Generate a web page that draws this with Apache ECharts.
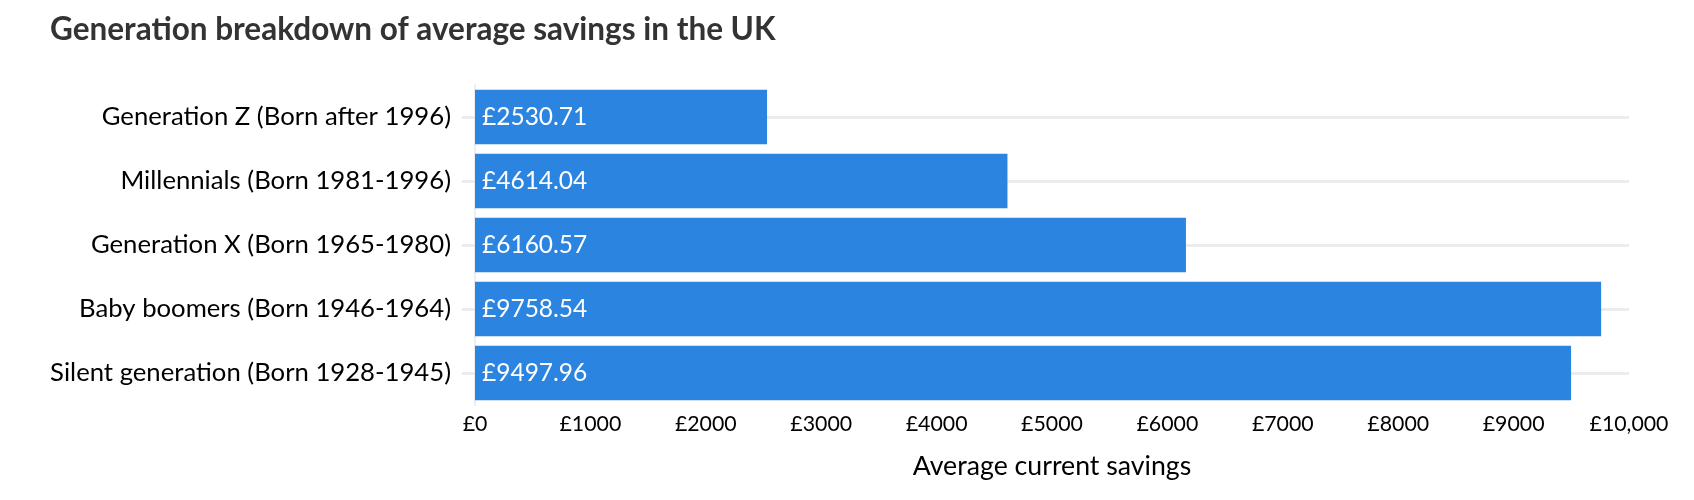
<!DOCTYPE html>
<html>
<head>
<meta charset="utf-8">
<style>
  html, body { margin: 0; padding: 0; background: #ffffff; }
  #chart { width: 1694px; height: 500px; }
</style>
<script src="https://cdn.jsdelivr.net/npm/echarts@6/dist/echarts.min.js"></script>
</head>
<body>
<div id="chart"></div>
<script>
const titleText = 'Generation breakdown of average savings in the UK';
const categories = [
  'Generation Z (Born after 1996)',
  'Millennials (Born 1981-1996)',
  'Generation X (Born 1965-1980)',
  'Baby boomers (Born 1946-1964)',
  'Silent generation (Born 1928-1945)'
];
const savings = [2530.71, 4614.04, 6160.57, 9758.54, 9497.96];
const tickLabels = ['£0', '£1000', '£2000', '£3000', '£4000', '£5000', '£6000', '£7000', '£8000', '£9000', '£10,000'];
const xAxisName = 'Average current savings';

const FONT = 'Lato';
const chart = echarts.init(document.getElementById('chart'), null, { renderer: 'canvas' });
chart.setOption({
  animation: false,
  backgroundColor: '#ffffff',
  title: {
    text: titleText,
    left: 50,
    top: 14,
    padding: 0,
    textStyle: { fontFamily: FONT, fontWeight: 'bold', fontSize: 31.5, color: '#333333' }
  },
  grid: { left: 475, right: 65, top: 85, bottom: 95, containLabel: false },
  xAxis: {
    type: 'value',
    min: 0,
    max: 10000,
    interval: 1000,
    axisLine: { show: false },
    axisTick: { show: false },
    splitLine: { show: false },
    axisLabel: {
      margin: 9,
      fontFamily: FONT,
      fontSize: 21.3,
      color: '#000000',
      formatter: function (v) { return tickLabels[Math.round(v / 1000)]; }
    },
    name: xAxisName,
    nameLocation: 'middle',
    nameGap: 48,
    nameTextStyle: { fontFamily: FONT, fontSize: 26.7, color: '#000000' }
  },
  yAxis: {
    type: 'category',
    data: categories,
    inverse: true,
    axisLine: { show: true, lineStyle: { color: '#eeeeee', width: 2 } },
    axisTick: { show: true, alignWithLabel: true, length: 13, lineStyle: { color: '#ececec', width: 3 } },
    splitLine: { show: true, alignWithLabel: true, lineStyle: { color: '#ececec', width: 3 } },
    axisLabel: {
      margin: 24,
      fontFamily: FONT,
      fontSize: 25.7,
      color: '#000000'
    }
  },
  series: [{
    type: 'bar',
    data: savings,
    barCategoryGap: '15%',
    itemStyle: { color: '#2c84e1' },
    label: {
      show: true,
      position: 'insideLeft',
      distance: 7,
      fontFamily: FONT,
      fontSize: 24.5,
      color: '#ffffff',
      formatter: function (p) { return '£' + p.value.toFixed(2); }
    }
  }]
});
</script>
</body>
</html>
